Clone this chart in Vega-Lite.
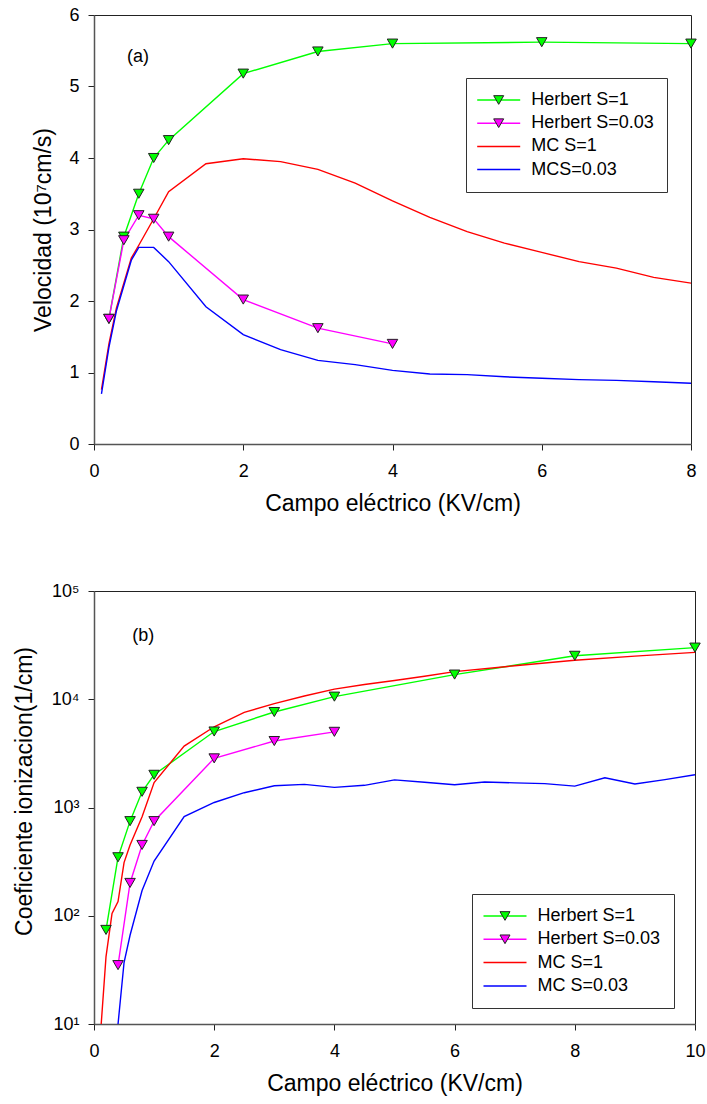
{
  "$schema": "https://vega.github.io/schema/vega-lite/v6.json",
  "background": "white",
  "padding": {"left": 12, "top": 5, "right": 8, "bottom": 5},
  "spacing": 65,
  "config": {
    "font": "Liberation Sans",
    "view": {"stroke": "#222", "strokeWidth": 1},
    "axis": {"grid": false, "domainColor": "#555", "domainWidth": 1.5, "tickColor": "#222", "tickSize": 6, "labelFontSize": 18, "titleFontSize": 23, "titleFontWeight": "normal", "labelColor": "#000", "titleColor": "#000", "labelFlush": false, "labelOverlap": false, "labelFont": "Liberation Sans", "titleFont": "Liberation Sans"},
    "axisX": {"labelPadding": 12.5, "titlePadding": 12},
    "axisY": {"labelPadding": 9, "titlePadding": 13}
  },
  "datasets": {
    "a": [
      {"s": "Herbert S=1", "x": 0.2, "y": 1.75}, {"s": "Herbert S=1", "x": 0.4, "y": 2.9}, {"s": "Herbert S=1", "x": 0.6, "y": 3.5}, {"s": "Herbert S=1", "x": 0.8, "y": 4.0}, {"s": "Herbert S=1", "x": 1.0, "y": 4.25}, {"s": "Herbert S=1", "x": 2, "y": 5.18}, {"s": "Herbert S=1", "x": 3, "y": 5.49}, {"s": "Herbert S=1", "x": 4, "y": 5.6}, {"s": "Herbert S=1", "x": 6, "y": 5.62}, {"s": "Herbert S=1", "x": 8, "y": 5.6},
      {"s": "Herbert S=0.03", "x": 0.2, "y": 1.75}, {"s": "Herbert S=0.03", "x": 0.4, "y": 2.85}, {"s": "Herbert S=0.03", "x": 0.6, "y": 3.2}, {"s": "Herbert S=0.03", "x": 0.8, "y": 3.15}, {"s": "Herbert S=0.03", "x": 1.0, "y": 2.9}, {"s": "Herbert S=0.03", "x": 2, "y": 2.02}, {"s": "Herbert S=0.03", "x": 3, "y": 1.62}, {"s": "Herbert S=0.03", "x": 4, "y": 1.4},
      {"s": "MC S=1", "x": 0.1, "y": 0.76}, {"s": "MC S=1", "x": 0.2, "y": 1.4}, {"s": "MC S=1", "x": 0.3, "y": 1.9}, {"s": "MC S=1", "x": 0.5, "y": 2.6}, {"s": "MC S=1", "x": 0.6, "y": 2.78}, {"s": "MC S=1", "x": 0.8, "y": 3.15}, {"s": "MC S=1", "x": 1.0, "y": 3.53}, {"s": "MC S=1", "x": 1.5, "y": 3.92}, {"s": "MC S=1", "x": 2, "y": 3.99}, {"s": "MC S=1", "x": 2.5, "y": 3.95}, {"s": "MC S=1", "x": 3, "y": 3.84}, {"s": "MC S=1", "x": 3.5, "y": 3.65}, {"s": "MC S=1", "x": 4, "y": 3.4}, {"s": "MC S=1", "x": 4.5, "y": 3.17}, {"s": "MC S=1", "x": 5, "y": 2.97}, {"s": "MC S=1", "x": 5.5, "y": 2.81}, {"s": "MC S=1", "x": 6, "y": 2.68}, {"s": "MC S=1", "x": 6.5, "y": 2.55}, {"s": "MC S=1", "x": 7, "y": 2.46}, {"s": "MC S=1", "x": 7.5, "y": 2.33}, {"s": "MC S=1", "x": 8, "y": 2.25},
      {"s": "MCS=0.03", "x": 0.1, "y": 0.7}, {"s": "MCS=0.03", "x": 0.2, "y": 1.35}, {"s": "MCS=0.03", "x": 0.3, "y": 1.86}, {"s": "MCS=0.03", "x": 0.5, "y": 2.57}, {"s": "MCS=0.03", "x": 0.6, "y": 2.75}, {"s": "MCS=0.03", "x": 0.8, "y": 2.75}, {"s": "MCS=0.03", "x": 1.0, "y": 2.55}, {"s": "MCS=0.03", "x": 1.5, "y": 1.92}, {"s": "MCS=0.03", "x": 2, "y": 1.53}, {"s": "MCS=0.03", "x": 2.5, "y": 1.32}, {"s": "MCS=0.03", "x": 3, "y": 1.17}, {"s": "MCS=0.03", "x": 3.5, "y": 1.11}, {"s": "MCS=0.03", "x": 4, "y": 1.03}, {"s": "MCS=0.03", "x": 4.5, "y": 0.98}, {"s": "MCS=0.03", "x": 5, "y": 0.97}, {"s": "MCS=0.03", "x": 5.5, "y": 0.94}, {"s": "MCS=0.03", "x": 6, "y": 0.92}, {"s": "MCS=0.03", "x": 6.5, "y": 0.9}, {"s": "MCS=0.03", "x": 7, "y": 0.89}, {"s": "MCS=0.03", "x": 7.5, "y": 0.87}, {"s": "MCS=0.03", "x": 8, "y": 0.85}
    ],
    "b": [
      {"s": "Herbert S=1", "x": 0.2, "y": 74}, {"s": "Herbert S=1", "x": 0.4, "y": 347}, {"s": "Herbert S=1", "x": 0.6, "y": 748}, {"s": "Herbert S=1", "x": 0.8, "y": 1396}, {"s": "Herbert S=1", "x": 1.0, "y": 2005}, {"s": "Herbert S=1", "x": 2, "y": 5035}, {"s": "Herbert S=1", "x": 3, "y": 7620}, {"s": "Herbert S=1", "x": 4, "y": 10570}, {"s": "Herbert S=1", "x": 6, "y": 16900}, {"s": "Herbert S=1", "x": 8, "y": 25200}, {"s": "Herbert S=1", "x": 10, "y": 30000},
      {"s": "Herbert S=0.03", "x": 0.4, "y": 35}, {"s": "Herbert S=0.03", "x": 0.6, "y": 201}, {"s": "Herbert S=0.03", "x": 0.8, "y": 451}, {"s": "Herbert S=0.03", "x": 1.0, "y": 748}, {"s": "Herbert S=0.03", "x": 2, "y": 2844}, {"s": "Herbert S=0.03", "x": 3, "y": 4112}, {"s": "Herbert S=0.03", "x": 4, "y": 5000},
      {"s": "MC S=1", "x": 0.1, "y": 7}, {"s": "MC S=1", "x": 0.2, "y": 42}, {"s": "MC S=1", "x": 0.3, "y": 105}, {"s": "MC S=1", "x": 0.4, "y": 135}, {"s": "MC S=1", "x": 0.5, "y": 310}, {"s": "MC S=1", "x": 0.6, "y": 450}, {"s": "MC S=1", "x": 0.8, "y": 820}, {"s": "MC S=1", "x": 1.0, "y": 1700}, {"s": "MC S=1", "x": 1.5, "y": 3690}, {"s": "MC S=1", "x": 2, "y": 5570}, {"s": "MC S=1", "x": 2.5, "y": 7570}, {"s": "MC S=1", "x": 3, "y": 9120}, {"s": "MC S=1", "x": 3.5, "y": 10720}, {"s": "MC S=1", "x": 4, "y": 12390}, {"s": "MC S=1", "x": 4.5, "y": 13700}, {"s": "MC S=1", "x": 5, "y": 14900}, {"s": "MC S=1", "x": 5.5, "y": 16300}, {"s": "MC S=1", "x": 6, "y": 18000}, {"s": "MC S=1", "x": 7, "y": 20400}, {"s": "MC S=1", "x": 8, "y": 22900}, {"s": "MC S=1", "x": 9, "y": 25000}, {"s": "MC S=1", "x": 10, "y": 27100},
      {"s": "MC S=0.03", "x": 0.4, "y": 10}, {"s": "MC S=0.03", "x": 0.5, "y": 37}, {"s": "MC S=0.03", "x": 0.6, "y": 66}, {"s": "MC S=0.03", "x": 0.8, "y": 171}, {"s": "MC S=0.03", "x": 1.0, "y": 320}, {"s": "MC S=0.03", "x": 1.5, "y": 825}, {"s": "MC S=0.03", "x": 2, "y": 1113}, {"s": "MC S=0.03", "x": 2.5, "y": 1370}, {"s": "MC S=0.03", "x": 3, "y": 1587}, {"s": "MC S=0.03", "x": 3.5, "y": 1636}, {"s": "MC S=0.03", "x": 4, "y": 1535}, {"s": "MC S=0.03", "x": 4.5, "y": 1603}, {"s": "MC S=0.03", "x": 5, "y": 1800}, {"s": "MC S=0.03", "x": 5.5, "y": 1710}, {"s": "MC S=0.03", "x": 6, "y": 1625}, {"s": "MC S=0.03", "x": 6.5, "y": 1722}, {"s": "MC S=0.03", "x": 7, "y": 1690}, {"s": "MC S=0.03", "x": 7.5, "y": 1660}, {"s": "MC S=0.03", "x": 8, "y": 1577}, {"s": "MC S=0.03", "x": 8.5, "y": 1880}, {"s": "MC S=0.03", "x": 9, "y": 1648}, {"s": "MC S=0.03", "x": 9.5, "y": 1810}, {"s": "MC S=0.03", "x": 10, "y": 2005}
    ]
  },
  "resolve": {"scale": {"stroke": "independent", "fill": "independent"}, "legend": {"stroke": "independent", "fill": "independent"}},
  "vconcat": [
    {
      "width": 597,
      "height": 429,
      "data": {"name": "a"},
      "encoding": {
        "x": {"field": "x", "type": "quantitative", "scale": {"domain": [0, 8], "nice": false, "zero": false}, "axis": {"values": [0, 2, 4, 6, 8], "title": "Campo eléctrico (KV/cm)"}},
        "y": {"field": "y", "type": "quantitative", "scale": {"domain": [0, 6], "nice": false}, "axis": {"values": [0, 1, 2, 3, 4, 5, 6], "title": "Velocidad (10⁷cm/s)"}}
      },
      "layer": [
        {
          "mark": {"type": "line", "strokeWidth": 1.4, "clip": true},
          "encoding": {
            "stroke": {"field": "s", "type": "nominal", "scale": {"domain": ["Herbert S=1", "Herbert S=0.03", "MC S=1", "MCS=0.03"], "range": ["#00ff00", "#ff00ff", "#ff0000", "#0000ff"]},
              "legend": {"orient": "none", "legendX": 372, "legendY": 63, "title": null, "symbolType": "M-4.3,0H4.3", "symbolSize": 100, "symbolStrokeWidth": 1.5, "symbolOffset": 10.7, "labelOffset": 23.5, "labelFontSize": 18, "labelFont": "Liberation Sans", "labelColor": "#000", "padding": 13, "rowPadding": 5.2, "strokeColor": "#333", "labelExpr": "datum.label + '\u00a0'", "zindex": 1}}
          }
        },
        {
          "transform": [{"filter": "indexof(datum.s, 'Herbert') == 0"}],
          "mark": {"type": "point", "shape": "triangle-down", "filled": true, "size": 110, "stroke": "#222", "strokeWidth": 1, "opacity": 1},
          "encoding": {
            "fill": {"field": "s", "type": "nominal", "scale": {"domain": ["Herbert S=1", "Herbert S=0.03"], "range": ["#00ff00", "#ff00ff"]},
              "legend": {"orient": "none", "legendX": 372, "legendY": 63, "title": null, "symbolType": "triangle-down", "symbolSize": 100, "symbolStrokeColor": "#222", "symbolStrokeWidth": 1, "symbolOffset": 10.7, "labelOffset": 23.5, "labelFontSize": 18, "labelFont": "Liberation Sans", "labelOpacity": 0, "padding": 13, "rowPadding": 5.2, "labelExpr": "datum.label + '\u00a0'", "zindex": 2}}
          }
        },
        {
          "data": {"values": [{"x": 0.59, "y": 5.41, "t": "(a)"}]},
          "mark": {"type": "text", "fontSize": 18, "font": "Liberation Sans", "color": "#000"},
          "encoding": {"text": {"field": "t"}}
        }
      ]
    },
    {
      "width": 601,
      "height": 433,
      "data": {"name": "b"},
      "encoding": {
        "x": {"field": "x", "type": "quantitative", "scale": {"domain": [0, 10], "nice": false, "zero": false}, "axis": {"values": [0, 2, 4, 6, 8, 10], "title": "Campo eléctrico (KV/cm)"}},
        "y": {"field": "y", "type": "quantitative", "scale": {"type": "log", "domain": [10, 100000], "nice": false}, "axis": {"values": [10, 100, 1000, 10000, 100000], "title": "Coeficiente ionizacion(1/cm)", "titlePadding": 15, "titleY": 200, "labelExpr": "'10' + ['', '¹', '²', '³', '⁴', '⁵'][round(log(datum.value) / LN10)]"}}
      },
      "layer": [
        {
          "mark": {"type": "line", "strokeWidth": 1.4, "clip": true},
          "encoding": {
            "stroke": {"field": "s", "type": "nominal", "scale": {"domain": ["Herbert S=1", "Herbert S=0.03", "MC S=1", "MC S=0.03"], "range": ["#00ff00", "#ff00ff", "#ff0000", "#0000ff"]},
              "legend": {"orient": "none", "legendX": 378, "legendY": 303, "title": null, "symbolType": "M-4.3,0H4.3", "symbolSize": 100, "symbolStrokeWidth": 1.5, "symbolOffset": 11, "labelOffset": 23.5, "labelFontSize": 18, "labelFont": "Liberation Sans", "labelColor": "#000", "padding": 13, "rowPadding": 5.3, "strokeColor": "#333", "labelExpr": "datum.label + '\u00a0'", "zindex": 1}}
          }
        },
        {
          "transform": [{"filter": "indexof(datum.s, 'Herbert') == 0"}],
          "mark": {"type": "point", "shape": "triangle-down", "filled": true, "size": 110, "stroke": "#222", "strokeWidth": 1, "opacity": 1},
          "encoding": {
            "fill": {"field": "s", "type": "nominal", "scale": {"domain": ["Herbert S=1", "Herbert S=0.03"], "range": ["#00ff00", "#ff00ff"]},
              "legend": {"orient": "none", "legendX": 378, "legendY": 303, "title": null, "symbolType": "triangle-down", "symbolSize": 100, "symbolStrokeColor": "#222", "symbolStrokeWidth": 1, "symbolOffset": 11, "labelOffset": 23.5, "labelFontSize": 18, "labelFont": "Liberation Sans", "labelOpacity": 0, "padding": 13, "rowPadding": 5.3, "labelExpr": "datum.label + '\u00a0'", "zindex": 2}}
          }
        },
        {
          "data": {"values": [{"x": 0.82, "y": 38000, "t": "(b)"}]},
          "mark": {"type": "text", "fontSize": 18, "font": "Liberation Sans", "color": "#000"},
          "encoding": {"text": {"field": "t"}}
        }
      ]
    }
  ]
}
